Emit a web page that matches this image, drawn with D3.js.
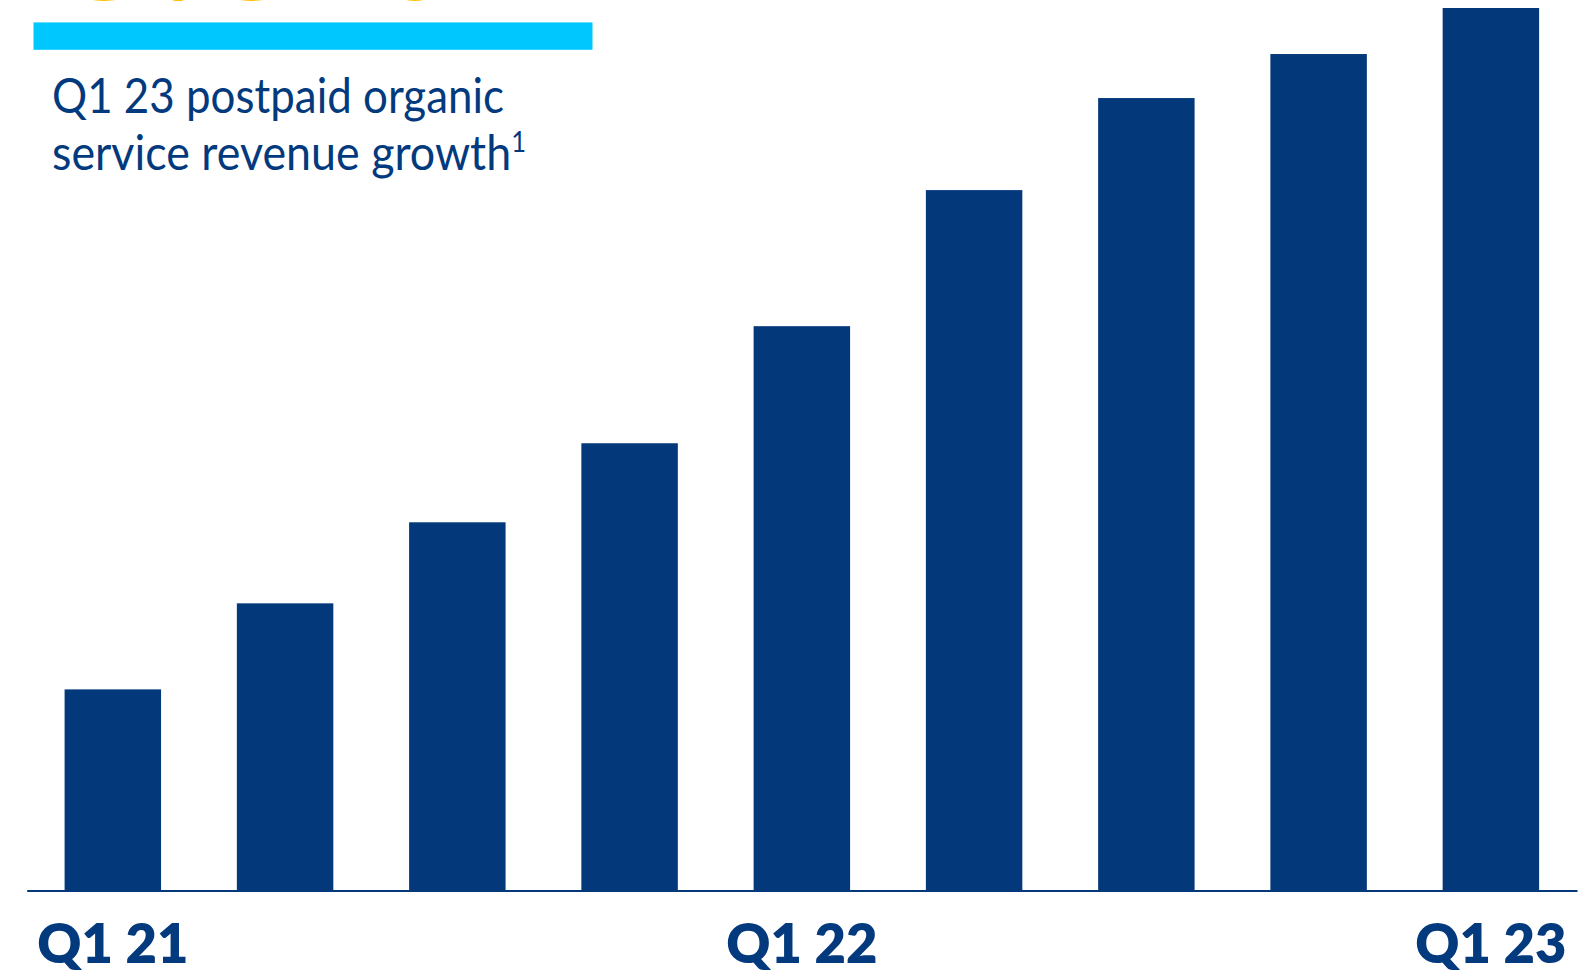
<!DOCTYPE html>
<html>
<head>
<meta charset="utf-8">
<script src="https://cdn.jsdelivr.net/npm/d3@7/dist/d3.min.js"></script>
<style>
  html, body { margin: 0; padding: 0; background: #ffffff; }
  svg { display: block; }
</style>
</head>
<body>
<svg id="chart" width="1593" height="974"></svg>
<script>
// Quarterly postpaid organic service revenue (index, Q1 21 – Q1 23)
const quarters = ["Q1 21", "Q2 21", "Q3 21", "Q4 21", "Q1 22", "Q2 22", "Q3 22", "Q4 22", "Q1 23"];
const revenueIndex = [20.1, 28.7, 36.8, 44.7, 56.4, 70.0, 79.2, 83.6, 88.2];
const tickLabels = ["Q1 21", "Q1 22", "Q1 23"];
const headline = "6.6%";
const subtitleLines = ["Q1 23 postpaid organic", "service revenue growth"];
const footnoteMark = "1";

const navy = "#03387b";
const textNavy = "#033a7e";
const cyan = "#00c8ff";
const gold = "#ffc000";

const svg = d3.select("#chart");
const baseY = 890.5;

const x = d3.scaleBand()
  .domain(quarters)
  .range([26.7, 1577])
  .paddingInner(0.44)
  .paddingOuter(0.22);

const y = d3.scaleLinear()
  .domain([0, 89])
  .range([baseY, 0]);

// Bars
svg.append("g")
  .selectAll("rect")
  .data(quarters.map((q, i) => ({ q, v: revenueIndex[i] })))
  .join("rect")
  .attr("x", d => x(d.q))
  .attr("y", d => y(d.v))
  .attr("width", x.bandwidth())
  .attr("height", d => y(0) - y(d.v))
  .attr("fill", navy);

// Baseline axis with Q1 labels
const axis = d3.axisBottom(x)
  .tickValues(tickLabels)
  .tickSize(0)
  .tickSizeOuter(0);

const axisG = svg.append("g")
  .attr("transform", `translate(0,${baseY})`)
  .call(axis);

axisG.select(".domain")
  .attr("stroke", navy)
  .attr("stroke-width", 2);

axisG.selectAll(".tick text")
  .attr("y", 72)
  .attr("dy", 0)
  .attr("fill", textNavy)
  .style("font-family", "Lato, 'Open Sans', sans-serif")
  .style("font-weight", 800)
  .style("font-size", "54px")
  .attr("textLength", 151)
  .attr("lengthAdjust", "spacingAndGlyphs");

// Headline figure (runs off the top edge)
svg.append("text")
  .attr("x", 52)
  .attr("y", 0.2)
  .attr("fill", gold)
  .style("font-family", "Lato, sans-serif")
  .style("font-weight", 700)
  .style("font-size", "150px")
  .attr("textLength", 400)
  .attr("lengthAdjust", "spacingAndGlyphs")
  .text(headline);

// Cyan rule
svg.append("rect")
  .attr("x", 33.5)
  .attr("y", 22.4)
  .attr("width", 559)
  .attr("height", 27.4)
  .attr("fill", cyan);

// Subtitle
const sub = svg.append("g")
  .style("font-family", "Lato, 'Open Sans', sans-serif")
  .style("font-size", "49px")
  .attr("fill", textNavy);

sub.append("text")
  .attr("x", 52)
  .attr("y", 113)
  .attr("textLength", 452)
  .attr("lengthAdjust", "spacingAndGlyphs")
  .text(subtitleLines[0]);

const line2 = sub.append("text")
  .attr("x", 52)
  .attr("y", 169.5)
  .attr("textLength", 474)
  .attr("lengthAdjust", "spacingAndGlyphs");

line2.append("tspan").text(subtitleLines[1]);
line2.append("tspan")
  .attr("dy", -18)
  .style("font-size", "28px")
  .text(footnoteMark);
</script>
</body>
</html>
